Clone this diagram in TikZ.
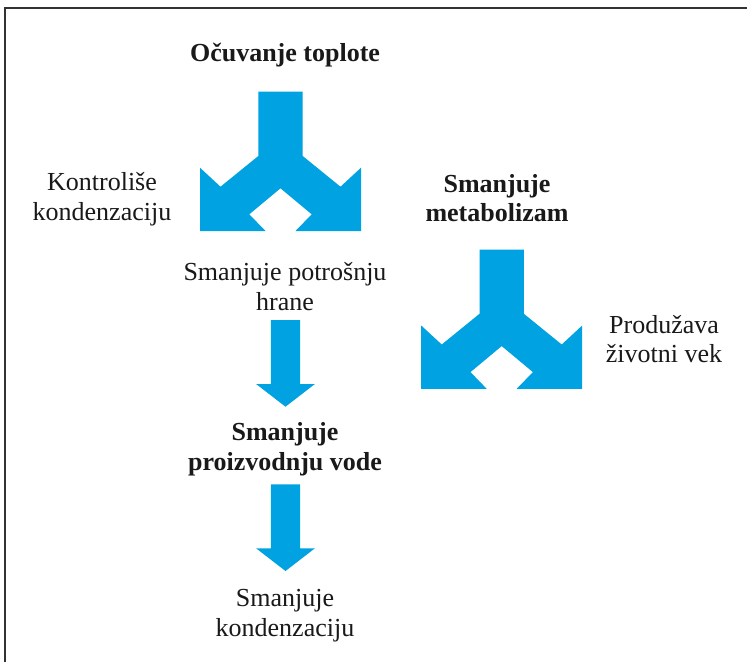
\documentclass[tikz,border=0pt]{standalone}
\usepackage{fontspec}
\setmainfont{Liberation Serif}
\definecolor{arrowblue}{RGB}{0,162,225}
\definecolor{framegray}{RGB}{50,50,50}
\tikzset{
  x=1pt, y=-1pt,
  lbl/.style={font=\fontsize{26}{29.5}\selectfont, align=center, inner sep=0pt, anchor=base, text=black!90},
  blbl/.style={lbl, font=\fontsize{26}{29.5}\selectfont\bfseries},
  fork/.pic={
    \fill[arrowblue] (-22.2,0) -- (22.2,0) -- (22.2,64.3) -- (60,95) -- (80.5,76)
      -- (80.5,139.3) -- (15,139.3) -- (31.2,122.6) -- (0,96.6) -- (-31.2,122.6)
      -- (-15,139.3) -- (-80.5,139.3) -- (-80.5,76) -- (-60,95) -- (-22.2,64.3) -- cycle;
  },
  downarrow/.pic={
    \fill[arrowblue] (-14.7,0) -- (14.7,0) -- (14.7,64) -- (29.4,64) -- (0,86.7)
      -- (-29.4,64) -- (-14.7,64) -- cycle;
  }
}
\begin{document}
\begin{tikzpicture}
\useasboundingbox (0,0) rectangle (747,662);
\fill[white] (0,0) rectangle (747,662);
% frame
\coordinate (fbl) at (5,662);
\coordinate (ftl) at (5,8);
\coordinate (ftr) at (747,8);
\draw[framegray, line width=1.3pt] (fbl) -- (ftl) -- (ftr);

% texts (base anchor = baseline of last line)
\node[blbl] (t1) at (285,61) {Očuvanje toplote};
\node[lbl] (t2) at (102,220) {Kontroliše\\kondenzaciju};
\node[blbl] (t3) at (497,221.5) {Smanjuje\\metabolizam};
\node[lbl] (t4) at (285,310) {Smanjuje potrošnju\\hrane};
\node[lbl] (t5) at (664,362.5) {Produžava\\životni vek};
\node[blbl] (t6) at (285,470) {Smanjuje\\proizvodnju vode};
\node[lbl] (t7) at (285,636) {Smanjuje\\kondenzaciju};

% arrows
\pic at (280.5,91.7) {fork};
\pic at (501.7,249.5) {fork};
\pic at (285.5,320) {downarrow};
\pic at (285.5,484.3) {downarrow};
\end{tikzpicture}
\end{document}
